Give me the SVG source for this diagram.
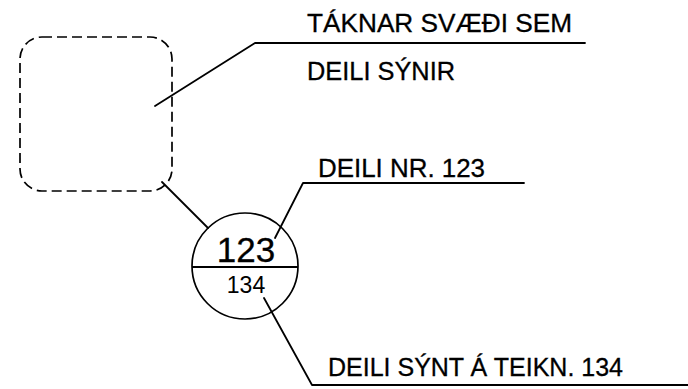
<svg xmlns="http://www.w3.org/2000/svg" width="688" height="389" viewBox="0 0 688 389">
<style>
.ln{fill:none;stroke:#000;stroke-width:1.8;stroke-linecap:round;stroke-linejoin:round}
.t{font-family:"Liberation Sans",Arial,sans-serif;font-size:25px;fill:#000;stroke:#000;stroke-width:0.3}
.n{font-family:"Liberation Sans",Arial,sans-serif;fill:#000;text-anchor:middle}
</style>
<rect width="688" height="389" fill="#fff"/>
<g id="area">
<rect x="20" y="37" width="152" height="154" rx="22" fill="none" stroke="#000" stroke-width="1.7" stroke-dasharray="10,5"/>
</g>
<g id="symbol">
<circle cx="245" cy="266" r="53" fill="none" stroke="#000" stroke-width="1.7"/>
<line x1="192" y1="267" x2="298" y2="267" stroke="#000" stroke-width="2"/>
<text class="n" x="246" y="262" font-size="35" stroke="#000" stroke-width="0.3">123</text>
<text class="n" x="246" y="293" font-size="23">134</text>
</g>
<g id="label-area">
<text class="t" x="307" y="32" textLength="265" lengthAdjust="spacingAndGlyphs">TÁKNAR SVÆÐI SEM</text>
<text class="t" x="307" y="80" textLength="148" lengthAdjust="spacingAndGlyphs">DEILI SÝNIR</text>
</g>
<g id="label-nr">
<text class="t" x="318" y="177" textLength="167" lengthAdjust="spacingAndGlyphs">DEILI NR. 123</text>
</g>
<g id="label-sheet">
<text class="t" x="328" y="376" textLength="295" lengthAdjust="spacingAndGlyphs">DEILI SÝNT Á TEIKN. 134</text>
</g>
<g id="connectors">
<polyline class="ln" points="155,106 255,43 585,43"/>
<line class="ln" x1="162" y1="182" x2="208" y2="228"/>
<polyline class="ln" points="275,238 303,183 524,183"/>
<polyline class="ln" points="264,298 312,385 688,385"/>
</g>
</svg>
